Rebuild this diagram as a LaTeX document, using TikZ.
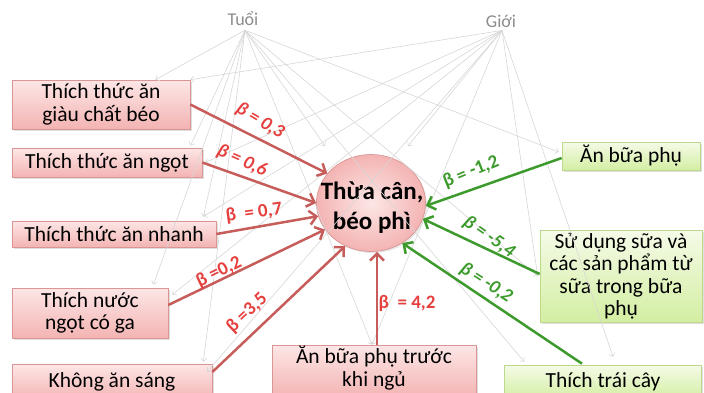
\documentclass[tikz,border=0pt]{standalone}
\usepackage{fontspec}
\setmainfont{Carlito}
\usetikzlibrary{shadows,arrows.meta,shapes.geometric}
\definecolor{pinkborder}{HTML}{D99694}
\definecolor{pinktop}{HTML}{FDE6E6}
\definecolor{pinkbot}{HTML}{F3B4B3}
\definecolor{greentop}{HTML}{F5FBE8}
\definecolor{greenbot}{HTML}{D3EEA2}
\definecolor{greenborder}{HTML}{BCD98E}
\definecolor{redarr}{HTML}{C65D5A}
\definecolor{redlab}{HTML}{E5403E}
\definecolor{greenarr}{HTML}{3D9A2C}
\definecolor{graylin}{HTML}{D6D6D6}
\definecolor{graytext}{HTML}{8C8C8C}
\tikzset{
  boxbase/.style={line width=0.7pt, align=center, inner sep=2pt,
    font=\fontsize{21.5}{22.5}\selectfont,
    drop shadow={opacity=0.25, shadow xshift=1.5pt, shadow yshift=-1.5pt}},
  pbox/.style={boxbase, draw=pinkborder, top color=pinktop, bottom color=pinkbot},
  gbox/.style={boxbase, draw=greenborder, top color=greentop, bottom color=greenbot},
  grayarr/.style={draw=graylin, line width=0.6pt, -{Straight Barb[length=3pt,width=6pt]}},
  redarrow/.style={draw=redarr, line width=2.5pt, -{Straight Barb[length=7pt,width=14pt]}},
  greenarrow/.style={draw=greenarr, line width=2.5pt, -{Straight Barb[length=7pt,width=14pt]}},
  rlab/.style={text=redlab, font=\fontsize{19}{20}\selectfont\bfseries, inner sep=0pt},
  glab/.style={text=greenarr, font=\fontsize{19}{20}\selectfont\bfseries, inner sep=0pt},
  ctrl/.style={text=graytext, font=\fontsize{18}{19}\selectfont, inner sep=1pt},
}
\begin{document}
\begin{tikzpicture}[x=1pt,y=-1pt]
\path[use as bounding box] (0,0) rectangle (704,392);
% control variables
\node[ctrl] (tu) at (243,19) {Tuổi};
\node[ctrl] (gi) at (501,21) {Giới};
% boxes
\node[pbox, minimum width=178pt, minimum height=49pt] (b1) at (101,104.5) {Thích thức ăn\\giàu chất béo};
\node[pbox, minimum width=190pt, minimum height=29pt] (b2) at (107,162.5) {Thích thức ăn ngọt};
\node[pbox, minimum width=204pt, minimum height=26pt] (b3) at (114,234) {Thích thức ăn nhanh};
\node[pbox, minimum width=156pt, minimum height=50pt] (b4) at (90,313) {Thích nước\\ngọt có ga};
\node[pbox, minimum width=200pt, minimum height=36pt] (b5) at (112,382) {Không ăn sáng};
\node[pbox, minimum width=204pt, minimum height=52pt] (b6) at (374,371) {};
\node[align=center, font=\fontsize{21.5}{22.5}\selectfont, inner sep=0pt] (b6t) at (374,368) {Ăn bữa phụ trước\\khi ngủ};
\node[gbox, minimum width=138pt, minimum height=28pt] (g1) at (631,156) {Ăn bữa phụ};
\node[gbox, minimum width=162pt, minimum height=92pt] (g2) at (621,276) {Sử dụng sữa và\\các sản phẩm từ\\sữa trong bữa\\phụ};
\node[gbox, minimum width=197pt, minimum height=34pt] (g3) at (603,382) {Thích trái cây};
\node[ellipse, draw=pinkborder, line width=0.7pt, inner color=pinktop, outer color=pinkbot,
      minimum width=109pt, minimum height=97pt, inner sep=0pt,
      drop shadow={opacity=0.2, shadow xshift=1.5pt, shadow yshift=-1.5pt}] (c) at (371,203) {};
\node[align=center, font=\fontsize{25}{30}\selectfont\bfseries, inner sep=0pt] (ct) at (372,208) {Thừa cân,\\béo phì};
% gray connectors
\path (tu.south) ++(2,3) coordinate (ts);
\path (gi.south) ++(1,2) coordinate (gs);
\draw[grayarr] (ts) -- ([xshift=-35pt]b1.north east);
\draw[grayarr] (ts) -- ([xshift=-12pt,yshift=2pt]b2.north east);
\draw[grayarr] (ts) -- ([xshift=-13pt,yshift=4pt]b3.north east);
\draw[grayarr] (ts) -- ([xshift=-15pt,yshift=3pt]b4.north east);
\draw[grayarr] (ts) -- ([xshift=-9pt,yshift=2pt]b5.north east);
\draw[grayarr] (ts) -- ([xshift=-2pt]b6.north);
\draw[grayarr] (ts) -- ([xshift=-46pt,yshift=8pt]c.north);
\draw[grayarr] (ts) -- ([xshift=-3pt,yshift=4pt]g1.west);
\draw[grayarr] (ts) -- ([xshift=-2pt]g2.west);
\draw[grayarr] (ts) -- ([xshift=20pt,yshift=3pt]g3.north west);
\draw[grayarr] (gs) -- (b1.north east);
\draw[grayarr] (gs) -- ([xshift=3pt]b2.east);
\draw[grayarr] (gs) -- ([xshift=-13pt,yshift=4pt]b3.north east);
\draw[grayarr] (gs) -- ([xshift=4pt,yshift=-7pt]b4.north east);
\draw[grayarr] (gs) -- ([xshift=-5pt,yshift=-8pt]b5.north east);
\draw[grayarr] (gs) -- ([xshift=-2pt]b6.north);
\draw[grayarr] (gs) -- ([xshift=37pt,yshift=8pt]c.north);
\draw[grayarr] (gs) -- ([xshift=-2pt]g2.west);
\draw[grayarr] (gs) -- ([xshift=10pt,yshift=8pt]g3.north);
% red arrows
\draw[redarrow] (b1.east) -- (c.146);
\draw[redarrow] (b2.east) -- (c.180);
\draw[redarrow] (b3.east) -- (c.194);
\draw[redarrow] ([yshift=8pt]b4.east) -- (c.210);
\draw[redarrow] ([yshift=10pt]b5.east) -- (c.239);
\draw[redarrow] ([xshift=3pt]b6.north) -- ([xshift=6pt]c.south);
% green arrows
\draw[greenarrow] ([yshift=-2pt]g1.west) -- (c.-3);
\draw[greenarrow] ([yshift=2pt]g2.west) -- (c.-17);
\draw[greenarrow] ([xshift=-21pt,yshift=1pt]g3.north) -- (c.-52);
% labels
\node[rlab, rotate=-31] (l1) at (260,121) {\itshape β = 0,3};
\node[rlab, rotate=-24] (l2) at (242,161) {\itshape β = 0,6};
\node[rlab, rotate=8] (l3) at (254,213) {β \ = 0,7};
\node[rlab, rotate=26] (l4) at (219,272) {β =0,2};
\node[rlab, rotate=43] (l5) at (247,313) {β =3,5};
\node[rlab] (l6) at (407,303) {β \ = 4,2};
\node[glab, rotate=22] (l7) at (471,172) {β = -1,2};
\node[glab, rotate=-35] (l8) at (489,237) {\itshape β = -5,4};
\node[glab, rotate=-33] (l9) at (486,283) {\itshape β = -0,2};
\end{tikzpicture}
\end{document}
